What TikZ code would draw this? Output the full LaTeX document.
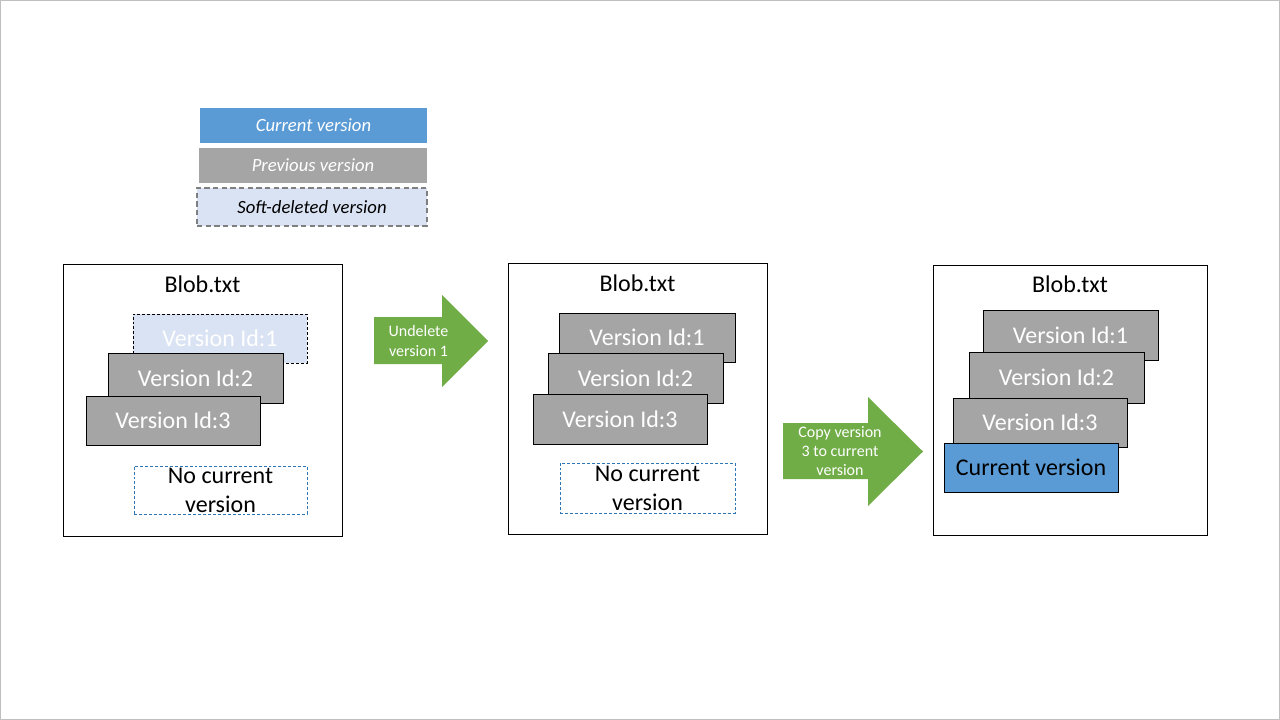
\documentclass[tikz,border=0pt]{standalone}
\usepackage{fontspec}
\setmainfont{Carlito}
\definecolor{curblue}{HTML}{5B9BD5}
\definecolor{prevgray}{HTML}{A5A5A5}
\definecolor{softblue}{HTML}{DAE3F3}
\definecolor{arrgreen}{HTML}{70AD47}
\definecolor{ncblue}{HTML}{2E75B6}
\definecolor{dashgray}{HTML}{7F7F7F}
\definecolor{slideedge}{HTML}{BFBFBF}
\tikzset{
  sz/.style 2 args={minimum width=#1*0.75pt, minimum height=#2*0.75pt, inner sep=0pt, outer sep=0pt},
  legcur/.style={fill=curblue, text=white, font=\fontsize{14}{17}\selectfont\itshape},
  legprev/.style={fill=prevgray, text=white, font=\fontsize{14}{17}\selectfont\itshape},
  legsoft/.style={fill=softblue, draw=dashgray, line width=1.2pt, dash pattern=on 4pt off 2.5pt, text=black, font=\fontsize{14}{17}\selectfont\itshape},
  frame/.style={draw=black, line width=0.75pt, fill=white},
  title/.style={font=\fontsize{18}{21.6}\selectfont, text=black},
  verbox/.style={fill=prevgray, draw=black, line width=0.75pt, text=white, font=\fontsize{18}{21.6}\selectfont},
  softbox/.style={fill=softblue, draw=black, line width=0.75pt, dash pattern=on 2.2pt off 1.5pt, text=white, font=\fontsize{18}{21.6}\selectfont},
  ncbox/.style={fill=white, draw=ncblue, line width=0.75pt, dash pattern=on 2.2pt off 1.5pt, text=black, align=center, font=\fontsize{18}{21.6}\selectfont},
  curbox/.style={fill=curblue, draw=black, line width=0.75pt, text=black, font=\fontsize{18}{21.6}\selectfont},
  bigarrow/.style={fill=arrgreen, draw=none},
  arrtext/.style={text=white, align=center, font=\fontsize{12}{14.4}\selectfont, inner sep=0pt},
}
\begin{document}
\begin{tikzpicture}[x=0.75pt, y=-0.75pt]
\useasboundingbox (0,0) rectangle (1280,720);
\draw[slideedge, line width=0.75pt] (0.5,0.5) rectangle (1279.5,719.5);

% legend
\node[legcur, sz={227}{35}] (lcur) at (313.5,125.5) {Current version};
\node[legprev, sz={228}{35}] (lprev) at (313,165.5) {Previous version};
\node[legsoft, sz={230}{38}] (lsoft) at (312,207) {Soft-deleted version};

% panel 1
\node[frame, sz={279}{272}] (f1) at (202.5,400) {};
\node[title] (b1) at (202.5,284) {Blob.txt};
\node[softbox, sz={174}{49}] (p1v1) at (220,338.5) {Version Id:1};
\node[verbox, sz={175}{50}] (p1v2) at (195.5,378) {Version Id:2};
\node[verbox, sz={174}{49}] (p1v3) at (173,420.5) {Version Id:3};
\node[ncbox, sz={173}{48}] (p1nc) at (220.5,490) {No current\\version};

% arrow 1
\fill[bigarrow] (374,317) -- (442,317) -- (442,295) -- (488,341) -- (442,387) -- (442,364) -- (374,364) -- cycle;
\node[arrtext] (a1) at (418.5,341) {Undelete\\version 1};

% panel 2
\node[frame, sz={259}{271}] (f2) at (637.5,398.5) {};
\node[title] (b2) at (637.5,283) {Blob.txt};
\node[verbox, sz={176}{49}] (p2v1) at (647,337.5) {Version Id:1};
\node[verbox, sz={175}{50}] (p2v2) at (635.5,378) {Version Id:2};
\node[verbox, sz={174}{50}] (p2v3) at (620,419) {Version Id:3};
\node[ncbox, sz={175}{50}] (p2nc) at (647.5,488) {No current\\version};

% arrow 2
\fill[bigarrow] (783,423) -- (868,423) -- (868,397) -- (923,451.5) -- (868,506) -- (868,479) -- (783,479) -- cycle;
\node[arrtext] (a2) at (840,451) {Copy version\\3 to current\\version};

% panel 3
\node[frame, sz={274}{270}] (f3) at (1070,400) {};
\node[title] (b3) at (1070,284) {Blob.txt};
\node[verbox, sz={175}{50}] (p3v1) at (1070.5,335) {Version Id:1};
\node[verbox, sz={175}{51}] (p3v2) at (1056.5,377.5) {Version Id:2};
\node[verbox, sz={174}{49}] (p3v3) at (1040,422.5) {Version Id:3};
\node[curbox, sz={174}{49}] (p3cur) at (1031,467.5) {Current version};
\end{tikzpicture}
\end{document}
